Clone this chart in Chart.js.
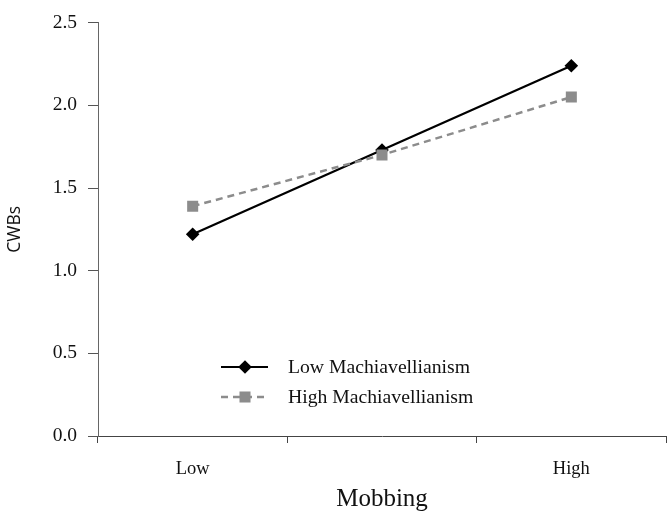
<!DOCTYPE html>
<html>
<head>
<meta charset="utf-8">
<script src="https://cdn.jsdelivr.net/npm/chart.js@4.4.1/dist/chart.umd.min.js"></script>
<style>
html,body{margin:0;padding:0;background:#fff;}
#wrap{width:667px;height:511px;position:relative;}
</style>
</head>
<body>
<div id="wrap"><canvas id="c" width="667" height="511"></canvas></div>
<script>
const categories = ["Low", "", "High"];
const lowMach = [1.22, 1.73, 2.24];
const highMach = [1.39, 1.70, 2.05];
const seriesNames = ["Low Machiavellianism", "High Machiavellianism"];
const yTicks = [0, 0.5, 1.0, 1.5, 2.0, 2.5];
const xTitle = "Mobbing";
const yTitle = "CWBs";

const serif = "'Liberation Serif', serif";

const legendPlugin = {
  id: 'inLegend',
  afterDatasetsDraw(chart) {
    const ctx = chart.ctx;
    const rows = [367, 397];
    chart.data.datasets.forEach((ds, i) => {
      const y = rows[i];
      ctx.save();
      ctx.strokeStyle = ds.borderColor;
      ctx.lineWidth = ds.borderWidth;
      ctx.setLineDash(ds.borderDash || []);
      ctx.beginPath();
      ctx.moveTo(221, y);
      ctx.lineTo(268, y);
      ctx.stroke();
      ctx.setLineDash([]);
      ctx.fillStyle = ds.pointBackgroundColor;
      ctx.strokeStyle = ds.pointBorderColor;
      Chart.helpers.drawPoint(ctx, {pointStyle: ds.pointStyle, radius: ds.pointRadius, borderWidth: 0, rotation: 0}, 245, y);
      ctx.fillStyle = '#111';
      ctx.font = "19.7px " + serif;
      ctx.textBaseline = 'middle';
      ctx.textAlign = 'left';
      ctx.fillText(ds.label, 288, y + 1);
      ctx.restore();
    });
  }
};

new Chart(document.getElementById('c'), {
  type: 'line',
  data: {
    labels: categories,
    datasets: [
      {
        label: seriesNames[0],
        data: lowMach,
        borderColor: '#000',
        backgroundColor: '#000',
        borderWidth: 2.2,
        pointStyle: 'rectRot',
        pointRadius: 6.8,
        pointBackgroundColor: '#000',
        pointBorderColor: '#000',
        pointBorderWidth: 0,
        tension: 0,
        order: 1
      },
      {
        label: seriesNames[1],
        data: highMach,
        borderColor: '#8c8c8c',
        backgroundColor: '#8c8c8c',
        borderWidth: 2.5,
        borderDash: [7, 5],
        pointStyle: 'rect',
        pointRadius: 7.8,
        pointBackgroundColor: '#8c8c8c',
        pointBorderColor: '#8c8c8c',
        pointBorderWidth: 0,
        tension: 0,
        order: 0
      }
    ]
  },
  options: {
    responsive: false,
    animation: false,
    layout: {autoPadding: false, padding: {top: 22, right: 1, left: 0, bottom: 0}},
    plugins: {
      legend: {display: false},
      tooltip: {enabled: false}
    },
    scales: {
      x: {
        type: 'category',
        offset: true,
        grid: {offset: true, drawOnChartArea: false, drawTicks: true, tickLength: 7, color: '#444', lineWidth: 1},
        border: {display: true, color: '#444', width: 1},
        ticks: {color: '#111', font: {family: serif, size: 18.5}, padding: 15, maxRotation: 0, autoSkip: false},
        title: {display: true, text: xTitle, color: '#111', font: {family: serif, size: 25}, padding: {top: 0, bottom: -3}},
        afterFit(s) { s.height = 75; s.paddingLeft = 0; s.paddingRight = 0; }
      },
      y: {
        min: 0,
        max: 2.5,
        afterBuildTicks(s) { s.ticks = yTicks.map(v => ({value: v})); },
        grid: {drawOnChartArea: false, drawTicks: true, tickLength: 10, color: '#555', lineWidth: 1},
        border: {display: true, color: '#666', width: 1},
        ticks: {color: '#111', font: {family: serif, size: 19.5}, padding: 11, callback: v => v.toFixed(1)},
        title: {display: true, text: yTitle, color: '#111', font: {family: "'Open Sans', sans-serif", size: 17.5}, padding: {top: 5, bottom: 0}},
        afterFit(s) { s.width = 98; }
      }
    }
  },
  plugins: [legendPlugin]
});
</script>
</body>
</html>
